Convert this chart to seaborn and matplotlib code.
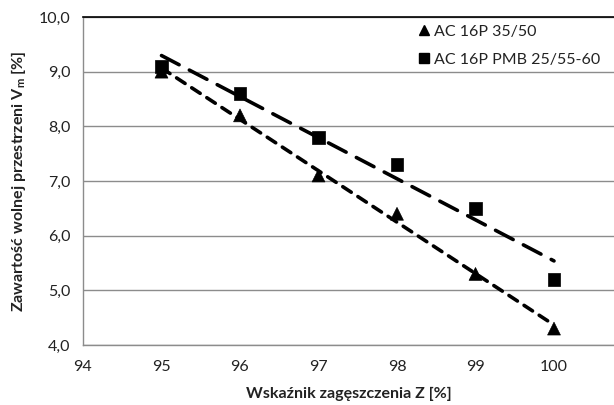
import numpy as np
import pandas as pd
import matplotlib
matplotlib.use("Agg")
import matplotlib.pyplot as plt
import seaborn as sns
from matplotlib.lines import Line2D
from matplotlib.ticker import FuncFormatter

# Data
z_values = [95, 96, 97, 98, 99, 100]
vm_ac35 = [9.0, 8.2, 7.1, 6.4, 5.3, 4.3]
vm_pmb = [9.1, 8.6, 7.8, 7.3, 6.5, 5.2]
series_names = ["AC 16P 35/50", "AC 16P PMB 25/55-60"]
x_ticks = [94, 95, 96, 97, 98, 99, 100]
y_ticks = [4.0, 5.0, 6.0, 7.0, 8.0, 9.0, 10.0]

df = pd.DataFrame({
    "Z": z_values * 2,
    "Vm": vm_ac35 + vm_pmb,
    "series": [series_names[0]] * 6 + [series_names[1]] * 6,
})

sns.set_style("white")
plt.rcParams["font.family"] = ["Lato", "DejaVu Sans"]

fig = plt.figure(figsize=(6.14, 4.05), dpi=100)
W, H = 614, 405
left, right, top, bottom = 83, 614, 17, 345
ax = fig.add_axes([left / W, 1 - bottom / H, (right - left) / W, (bottom - top) / H])

# trend lines
sns.regplot(data=df[df.series == series_names[1]], x="Z", y="Vm", ax=ax,
            scatter=False, ci=None, truncate=True,
            line_kws=dict(color="black", lw=2.6, dashes=(5.5, 3.2),
                          dash_capstyle="round", zorder=3))
sns.regplot(data=df[df.series == series_names[0]], x="Z", y="Vm", ax=ax,
            scatter=False, ci=None, truncate=True,
            line_kws=dict(color="black", lw=2.6, dashes=(2.8, 2.2),
                          dash_capstyle="round", zorder=3))

# markers
sns.scatterplot(data=df, x="Z", y="Vm", style="series", markers=["^", "s"],
                color="black", s=85, edgecolor="black", linewidth=0.5,
                ax=ax, legend=False, zorder=4)

ax.set_xlim(94, 94 + (right - left) / 78.5)
ax.set_ylim(4.0, 10.0)
ax.set_xticks(x_ticks)
ax.set_yticks(y_ticks)
ax.yaxis.set_major_formatter(FuncFormatter(lambda v, p: f"{v:.1f}".replace(".", ",")))

ax.grid(axis="y", color="#8c8c8c", lw=1.0)
ax.grid(axis="x", visible=False)
ax.set_axisbelow(True)

ax.spines["right"].set_visible(False)
ax.spines["top"].set_color("black")
ax.spines["top"].set_linewidth(1.2)
ax.spines["left"].set_color("#8c8c8c")
ax.spines["bottom"].set_color("#8c8c8c")
ax.spines["left"].set_linewidth(1.0)
ax.spines["bottom"].set_linewidth(1.0)

ax.tick_params(axis="both", direction="out", length=5, width=1.0, color="#8c8c8c",
               labelsize=11.5, labelcolor="#222222")
ax.tick_params(axis="x", pad=6)
ax.tick_params(axis="y", pad=4)

ax.set_xlabel("Wskaźnik zagęszczenia Z [%]", fontsize=11.5, fontweight="bold",
              color="#222222", labelpad=9)
ax.set_ylabel("Zawartość wolnej przestrzeni V$_\\mathregular{m}$ [%]", fontsize=11.5,
              fontweight="bold", color="#222222", labelpad=8)

handles = [
    Line2D([], [], marker="^", color="black", ls="none", markersize=7.5),
    Line2D([], [], marker="s", color="black", ls="none", markersize=7),
]
leg = ax.legend(handles, series_names, loc="upper left",
                bbox_to_anchor=((406 - left) / (right - left), 1.015),
                frameon=False, fontsize=11.5, handlelength=0.6,
                handletextpad=0.35, labelspacing=0.85, borderaxespad=0.4)
for t in leg.get_texts():
    t.set_color("#222222")

fig.savefig("out.png", dpi=100)
